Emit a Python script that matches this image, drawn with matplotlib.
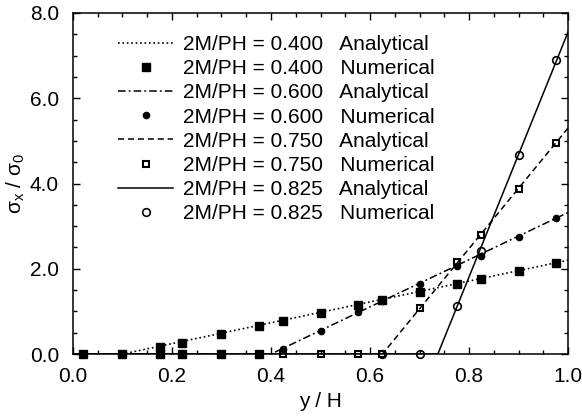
import matplotlib
matplotlib.use("Agg")
from matplotlib import pyplot as plt
from matplotlib.ticker import MultipleLocator, FormatStrFormatter

plt.rcParams['font.family'] = ['Liberation Sans', 'DejaVu Sans']
plt.rcParams['mathtext.fontset'] = 'custom'
plt.rcParams['mathtext.rm'] = 'Liberation Sans'
plt.rcParams['mathtext.it'] = 'Liberation Sans'

# ===== Данные =====
ratios = ["0.400", "0.600", "0.750", "0.825"]

# аналитика: прямые от точки нуля до y/H = 1.0
ana_x0 = [0.10, 0.40, 0.625, 0.737]
ana_end = [2.20, 3.32, 5.30, 7.55]

# численные
num04_x = [0.02, 0.10, 0.175, 0.22, 0.30, 0.375, 0.425, 0.50, 0.575, 0.625, 0.70, 0.775, 0.825, 0.90, 0.975]
num04_y = [0.0, 0.0, 0.17, 0.27, 0.46, 0.66, 0.77, 0.96, 1.15, 1.27, 1.45, 1.64, 1.75, 1.95, 2.14]

# нулевые точки, нарисованные залитыми квадратами
zero_sq_x = [0.175, 0.22, 0.30, 0.375]
zero_sq_y = [0.0, 0.0, 0.0, 0.0]

num06_x = [0.425, 0.50, 0.575, 0.625, 0.70, 0.775, 0.825, 0.90, 0.975]
num06_y = [0.12, 0.55, 0.98, 1.25, 1.64, 2.07, 2.31, 2.75, 3.19]

num075_x = [0.425, 0.50, 0.575, 0.625, 0.70, 0.775, 0.825, 0.90, 0.975]
num075_y = [0.0, 0.0, 0.0, 0.0, 1.07, 2.15, 2.79, 3.87, 4.96]

num0825_x = [0.625, 0.70, 0.775, 0.825, 0.90, 0.975]
num0825_y = [0.0, 0.0, 1.13, 2.42, 4.66, 6.89]

# ===== Рисуем =====
fig = plt.figure(figsize=(5.82, 4.18), dpi=100)
ax = fig.add_axes([0.1254, 0.153, 0.8506, 0.816])

line_styles = [':', (0, (5, 2, 1.2, 2)), (0, (4, 2.5)), '-']
num_data = [(num04_x, num04_y), (num06_x, num06_y), (num075_x, num075_y), (num0825_x, num0825_y)]
num_markers = [dict(marker='s', ms=5.8, mfc='black', mec='black'),
               dict(marker='o', ms=4.5, mfc='black', mec='black'),
               dict(marker='s', ms=5.0, mfc='none', mec='black', mew=1.5),
               dict(marker='o', ms=5.5, mfc='none', mec='black', mew=1.2)]

ax.plot(zero_sq_x, zero_sq_y, linestyle='none', color='black', **num_markers[0],
        zorder=3, clip_on=False)

for i, r in enumerate(ratios):
    ax.plot([0.0, ana_x0[i], 1.0], [0.0, 0.0, ana_end[i]], color='black',
            linestyle=line_styles[i], lw=1.1 if i > 0 else 1.2,
            label=f"2M/PH = {r}   Analytical", zorder=2)
    nx, ny = num_data[i]
    ax.plot(nx, ny, linestyle='none', color='black', **num_markers[i],
            label=f"2M/PH = {r}   Numerical", zorder=3, clip_on=False)

ax.set_xlim(0, 1.0)
ax.set_ylim(0, 8.0)
ax.xaxis.set_major_locator(MultipleLocator(0.2))
ax.xaxis.set_minor_locator(MultipleLocator(0.05))
ax.yaxis.set_major_locator(MultipleLocator(2.0))
ax.yaxis.set_minor_locator(MultipleLocator(0.5))
ax.xaxis.set_major_formatter(FormatStrFormatter('%.1f'))
ax.yaxis.set_major_formatter(FormatStrFormatter('%.1f'))
ax.tick_params(which='both', direction='in', top=True, right=True, labelsize=15, width=1)
ax.tick_params(which='major', length=5)
ax.tick_params(axis='x', which='major', pad=9)
ax.tick_params(axis='y', which='major', pad=10)
ax.tick_params(which='minor', length=3)
for s in ax.spines.values():
    s.set_linewidth(1.1)

ax.set_xlabel('y / H', fontsize=15, labelpad=5)
ax.set_ylabel(r'$\mathrm{\sigma_x\ /\ \sigma_0}$', fontsize=15, labelpad=2)

ax.legend(loc='upper left', bbox_to_anchor=(0.075, 0.96), frameon=False, fontsize=15,
          handlelength=2.6, handletextpad=0.5, labelspacing=0.25, borderaxespad=0)

plt.savefig("out.png", dpi=100)
